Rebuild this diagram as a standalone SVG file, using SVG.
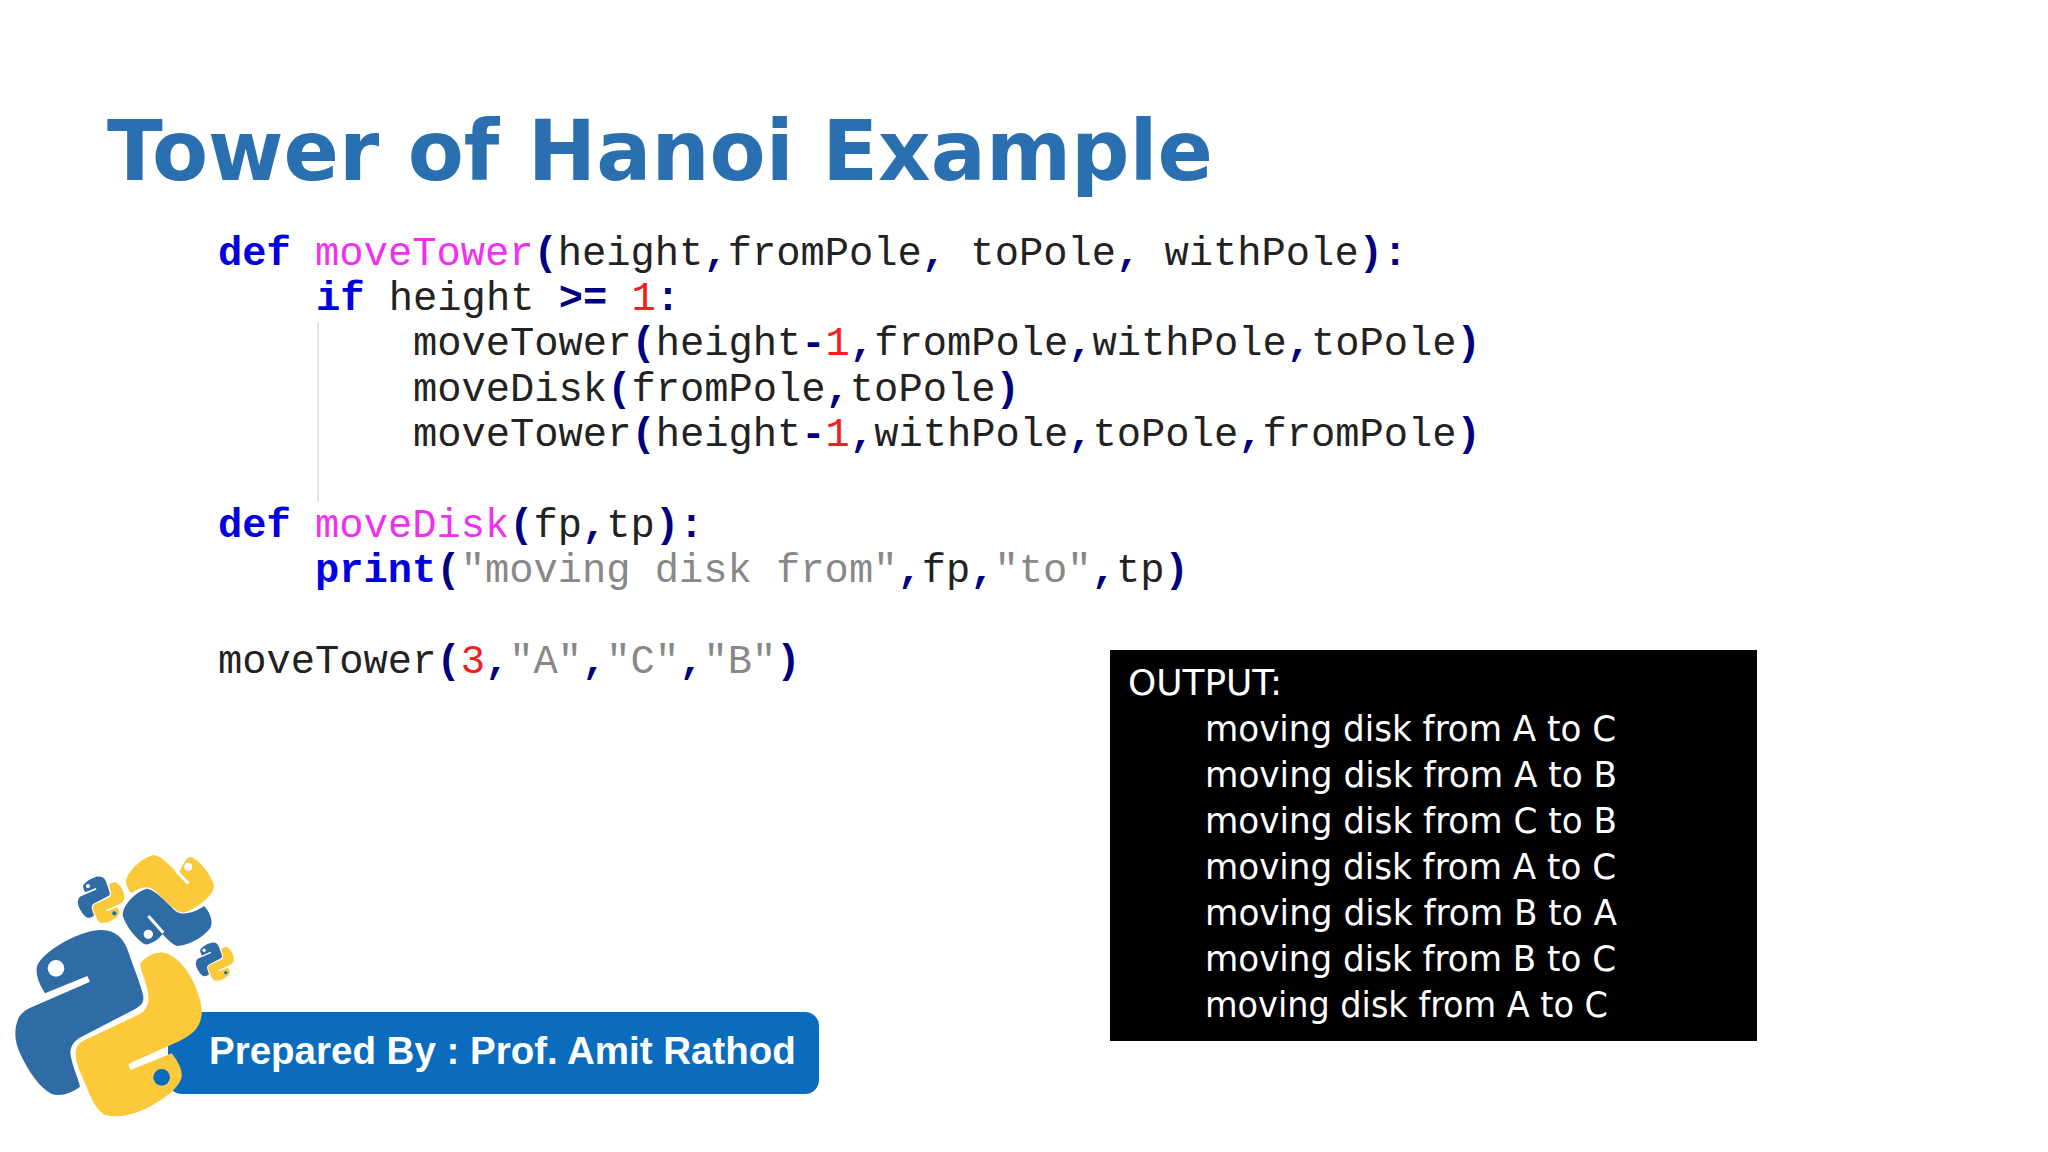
<svg xmlns="http://www.w3.org/2000/svg" xmlns:xlink="http://www.w3.org/1999/xlink" width="2048" height="1152" viewBox="0 0 2048 1152">
<style>
.c{font-family:"Liberation Mono",monospace;font-size:40.45px;fill:#222}
.k{fill:#0000e0;font-weight:bold}.f{fill:#f030f0}.n{fill:#f02020}.o{fill:#000080;font-weight:bold}.s{fill:#888}
.t{font-family:"DejaVu Sans",sans-serif;font-stretch:condensed;font-size:36px;fill:#fff}
.b{fill:#2f6ca6}.y{fill:#fbc93a}
</style>
<defs>
<g id="py">
<path class="b" d="M110 385C112 345 230 272 300 270C345 268 372 295 385 335C400 380 425 440 430 470C432 490 420 500 400 510L245 590C215 605 205 630 215 660C222 690 235 715 240 740C215 760 180 770 155 762C120 745 85 695 60 640C45 605 40 575 55 535C65 515 85 505 110 495L270 425L262 408L135 460C120 435 108 410 110 385Z"/>
<circle cx="168" cy="385" r="25" fill="#fff"/>
<path class="y" d="M420 372C435 350 465 335 490 338C530 345 560 385 580 425C595 460 608 495 605 525C600 565 575 585 540 602L385 672L392 690L515 640C535 665 548 690 545 712C535 750 480 785 440 805C400 825 350 835 315 825C285 810 270 765 255 730C240 695 222 660 228 630C232 610 250 600 275 590L420 522C440 510 448 490 445 465C440 430 425 400 420 372Z"/>
<circle cx="485" cy="712" r="25" fill="#0b6bbd"/>
</g>
</defs>
<rect width="2048" height="1152" fill="#fff"/>
<text id="title" x="107" y="180" font-family="DejaVu Sans,sans-serif" font-weight="bold" font-size="84" fill="#2a70b0" textLength="1106" lengthAdjust="spacingAndGlyphs">Tower of Hanoi Example</text>
<g id="code">
<line x1="318" y1="322" x2="318" y2="502" stroke="#ddd" stroke-width="1.5"/>
<text class="c" x="218" y="265" xml:space="preserve"><tspan class="k">def</tspan> <tspan class="f">moveTower</tspan><tspan class="o">(</tspan>height<tspan class="o">,</tspan>fromPole<tspan class="o">,</tspan> toPole<tspan class="o">,</tspan> withPole<tspan class="o">):</tspan></text>
<text class="c" x="316" y="310" xml:space="preserve"><tspan class="k">if</tspan> height <tspan class="o">&gt;=</tspan> <tspan class="n">1</tspan><tspan class="o">:</tspan></text>
<text class="c" x="413" y="355" xml:space="preserve">moveTower<tspan class="o">(</tspan>height<tspan class="o">-</tspan><tspan class="n">1</tspan><tspan class="o">,</tspan>fromPole<tspan class="o">,</tspan>withPole<tspan class="o">,</tspan>toPole<tspan class="o">)</tspan></text>
<text class="c" x="413" y="401" xml:space="preserve">moveDisk<tspan class="o">(</tspan>fromPole<tspan class="o">,</tspan>toPole<tspan class="o">)</tspan></text>
<text class="c" x="413" y="446" xml:space="preserve">moveTower<tspan class="o">(</tspan>height<tspan class="o">-</tspan><tspan class="n">1</tspan><tspan class="o">,</tspan>withPole<tspan class="o">,</tspan>toPole<tspan class="o">,</tspan>fromPole<tspan class="o">)</tspan></text>
<text class="c" x="218" y="537" xml:space="preserve"><tspan class="k">def</tspan> <tspan class="f">moveDisk</tspan><tspan class="o">(</tspan>fp<tspan class="o">,</tspan>tp<tspan class="o">):</tspan></text>
<text class="c" x="315" y="582" xml:space="preserve"><tspan class="k">print</tspan><tspan class="o">(</tspan><tspan class="s">"moving disk from"</tspan><tspan class="o">,</tspan>fp<tspan class="o">,</tspan><tspan class="s">"to"</tspan><tspan class="o">,</tspan>tp<tspan class="o">)</tspan></text>
<text class="c" x="218" y="673" xml:space="preserve">moveTower<tspan class="o">(</tspan><tspan class="n">3</tspan><tspan class="o">,</tspan><tspan class="s">"A"</tspan><tspan class="o">,</tspan><tspan class="s">"C"</tspan><tspan class="o">,</tspan><tspan class="s">"B"</tspan><tspan class="o">)</tspan></text>
</g>
<g id="output">
<rect x="1110" y="650" width="647" height="391" fill="#000"/>
<text class="t" x="1128" y="695" textLength="154" lengthAdjust="spacingAndGlyphs">OUTPUT:</text>
<text class="t" x="1205" y="741" textLength="411" lengthAdjust="spacingAndGlyphs">moving disk from A to C</text>
<text class="t" x="1205" y="787" textLength="412" lengthAdjust="spacingAndGlyphs">moving disk from A to B</text>
<text class="t" x="1205" y="833" textLength="412" lengthAdjust="spacingAndGlyphs">moving disk from C to B</text>
<text class="t" x="1205" y="879" textLength="411" lengthAdjust="spacingAndGlyphs">moving disk from A to C</text>
<text class="t" x="1205" y="925" textLength="412" lengthAdjust="spacingAndGlyphs">moving disk from B to A</text>
<text class="t" x="1205" y="971" textLength="411" lengthAdjust="spacingAndGlyphs">moving disk from B to C</text>
<text class="t" x="1205" y="1017" textLength="403" lengthAdjust="spacingAndGlyphs">moving disk from A to C</text>
</g>
<g id="badge">
<rect x="168" y="1012" width="651" height="82" rx="14" fill="#0b6bbd"/>
<text x="209" y="1064" font-family="Liberation Sans,sans-serif" font-weight="bold" font-size="38.5" fill="#fff">Prepared By : Prof. Amit Rathod</text>
</g>
<g id="logo" transform="translate(0 840) scale(.3333)">
<use xlink:href="#py" href="#py"/>
<use xlink:href="#py" href="#py" transform="translate(222 42) scale(.25)"/>
<use xlink:href="#py" href="#py" transform="translate(578 252) scale(.205)"/>
<path class="y" d="M378 122C385 90 430 50 462 45C490 50 515 85 535 100C545 85 555 55 570 50C595 55 635 105 642 135C645 165 590 205 555 217C530 222 495 180 465 152C445 135 420 140 395 160C385 150 378 135 378 122Z"/>
<path d="M528 92L565 130" stroke="#fff" stroke-width="9" fill="none"/>
<circle cx="565" cy="80" r="12" fill="#fff"/>
<path class="b" d="M368 225C370 190 410 155 440 146C470 150 505 195 530 215C550 228 590 215 612 198C630 215 640 245 632 262C615 290 565 318 530 318C505 310 475 265 445 232L488 282C475 300 450 315 435 313C410 300 375 255 368 225Z"/>
<path d="M445 228L490 278" stroke="#fff" stroke-width="9" fill="none"/>
<circle cx="445" cy="283" r="14" fill="#fff"/>
</g>
</svg>
